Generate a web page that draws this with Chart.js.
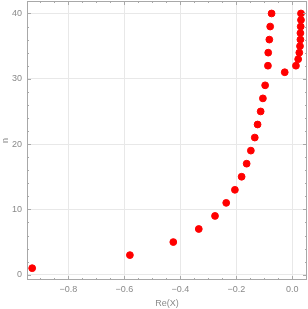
<!DOCTYPE html>
<html>
<head>
<meta charset="utf-8">
<script src="https://cdn.jsdelivr.net/npm/chart.js@4/dist/chart.umd.min.js"></script>
<style>
  html, body { margin: 0; padding: 0; background: #fff; }
  #wrap { width: 308px; height: 309px; }
</style>
</head>
<body>
<div id="wrap"><canvas id="chart" width="308" height="309"></canvas></div>
<script>
// valores
const nValues = [1, 3, 5, 7, 9, 11, 13, 15, 17, 19, 21, 23, 25, 27, 29, 31,
  32, 32, 33, 34, 34, 35, 36, 36, 37, 38, 38, 39, 40, 40];
const reX = [-0.929, -0.580, -0.425, -0.334, -0.276, -0.236, -0.205, -0.181, -0.163, -0.148,
  -0.134, -0.124, -0.113, -0.105, -0.097, -0.027,
  -0.087, 0.013, 0.021, -0.086, 0.025, 0.0275, -0.082, 0.029, 0.029, -0.079, 0.030, 0.031, -0.074, 0.031];
const xTicks = [-0.8, -0.6, -0.4, -0.2, 0.0];
const yTicks = [0, 10, 20, 30, 40];

const points = nValues.map((n, i) => ({ x: reX[i], y: n }));
const gray = '#8a8a8a';

// moldura com marcas para dentro, como no original
const framePlugin = {
  id: 'frame',
  afterDraw(chart) {
    const { ctx, chartArea: a, scales } = chart;
    const sx = scales.x, sy = scales.y;
    ctx.save();
    ctx.strokeStyle = '#a8a8a8';
    ctx.lineWidth = 1;
    ctx.strokeRect(a.left + 0.5, a.top + 0.5, a.right - a.left - 1, a.bottom - a.top - 1);
    ctx.beginPath();
    for (let k = -19; k <= 1; k++) {
      const v = k * 0.05;
      const px = Math.round(sx.getPixelForValue(v)) + 0.5;
      if (px < a.left || px > a.right) continue;
      const len = (k % 4 === 0) ? 4 : 2;
      ctx.moveTo(px, a.bottom); ctx.lineTo(px, a.bottom - len);
      ctx.moveTo(px, a.top); ctx.lineTo(px, a.top + len);
    }
    for (let v = 0; v <= 40; v += 2) {
      const py = Math.round(sy.getPixelForValue(v)) + 0.5;
      const len = (v % 10 === 0) ? 4 : 2;
      ctx.moveTo(a.left, py); ctx.lineTo(a.left + len, py);
      ctx.moveTo(a.right, py); ctx.lineTo(a.right - len, py);
    }
    ctx.stroke();
    ctx.restore();
  }
};

new Chart(document.getElementById('chart'), {
  type: 'scatter',
  data: {
    datasets: [{
      data: points,
      backgroundColor: '#ff0000',
      borderColor: '#ff0000',
      pointRadius: 3.4,
      pointHoverRadius: 3.4
    }]
  },
  options: {
    responsive: false,
    animation: false,
    layout: { autoPadding: false, padding: { top: 1, right: 1, left: 0, bottom: 0 } },
    plugins: { legend: { display: false }, tooltip: { enabled: false } },
    scales: {
      x: {
        type: 'linear',
        min: -0.9475,
        max: 0.0525,
        afterBuildTicks: s => { s.ticks = xTicks.map(v => ({ value: v })); },
        afterFit: s => { s.height = 29; s.paddingLeft = 0; s.paddingRight = 0; },
        grid: { color: '#e8e8e8', drawTicks: false },
        border: { display: false },
        ticks: {
          color: gray,
          font: { family: 'Liberation Sans', size: 9 },
          padding: 4,
          maxRotation: 0,
          callback: v => v === 0 ? '0.0' : '\u2212' + Math.abs(v).toFixed(1)
        },
        title: {
          display: true,
          text: 'Re(X)',
          color: gray,
          font: { family: 'Liberation Sans', size: 9 },
          padding: { top: 4, bottom: 0 }
        }
      },
      y: {
        type: 'linear',
        min: -0.81,
        max: 41.91,
        afterBuildTicks: s => { s.ticks = yTicks.map(v => ({ value: v })); },
        afterFit: s => { s.width = 27; s.paddingTop = 0; s.paddingBottom = 0; },
        grid: { color: '#e8e8e8', drawTicks: false },
        border: { display: false },
        ticks: {
          color: gray,
          font: { family: 'Liberation Sans', size: 9 },
          padding: 5
        },
        title: {
          display: true,
          text: 'n',
          color: gray,
          font: { family: 'Liberation Sans', size: 9 },
          padding: 0
        }
      }
    }
  },
  plugins: [framePlugin]
});
</script>
</body>
</html>
